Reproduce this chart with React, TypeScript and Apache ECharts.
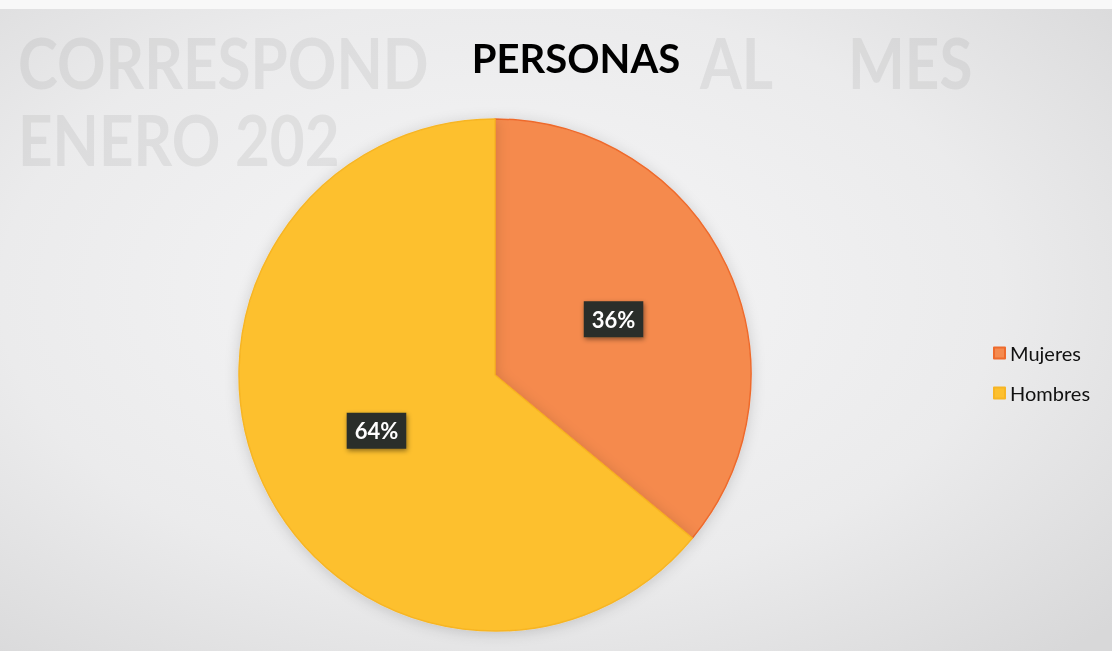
import React, { useEffect, useRef } from "react";
import * as echarts from "echarts";

const categories = ["Mujeres", "Hombres"];
const values = [36, 64];
const colors = ["#F58A4E", "#FDC02E"];
const borderColors = ["#EE6A2C", "#F7B524"];
const titleText = "PERSONAS";
// faint bleed-through text visible behind the chart (only the visible fragments)
const ghostWords = ["CORRESPOND", "AL", "MES", "ENERO 202"];
const ghostX = [18, 700, 848, 18];
const ghostY = [27, 27, 27, 104];

export default function App() {
  const ref = useRef<HTMLDivElement>(null);
  useEffect(() => {
    if (!ref.current) return;
    const chart = echarts.init(ref.current, null, { renderer: "svg" });
    const ghosts = ghostWords.map((w, i) => ({
      type: "text",
      x: ghostX[i],
      y: ghostY[i],
      scaleX: 0.86,
      silent: true,
      z: -1,
      style: {
        text: w,
        fontSize: 70,
        fontWeight: "bold",
        fontFamily: "Lato, 'Open Sans', sans-serif",
        fill: "rgba(150,150,150,0.17)",
        textVerticalAlign: "top",
      },
    }));
    chart.setOption({
      animation: false,
      backgroundColor: {
        type: "radial",
        x: 0.45,
        y: 0.45,
        r: 0.75,
        colorStops: [
          { offset: 0, color: "#f6f6f7" },
          { offset: 0.6, color: "#ebebec" },
          { offset: 1, color: "#d8d8d9" },
        ],
      },
      graphic: [
        {
          type: "rect",
          silent: true,
          z: -2,
          shape: { x: 0, y: 0, width: 1112, height: 9 },
          style: { fill: "#f8f8f8" },
        },
        ...ghosts,
      ],
      title: {
        text: titleText,
        left: 571,
        top: 33,
        textAlign: "center",
        textStyle: {
          fontSize: 40,
          fontWeight: "bold",
          color: "#000",
          fontFamily: "Lato, 'Open Sans', sans-serif",
        },
      },
      legend: {
        orient: "vertical",
        left: 988,
        top: 338,
        itemWidth: 11,
        itemHeight: 11,
        itemGap: 20,
        icon: "rect",
        data: categories,
        textStyle: {
          fontSize: 20,
          color: "#111",
          fontFamily: "Lato, 'Open Sans', sans-serif",
        },
      },
      series: [
        {
          type: "pie",
          center: [495, 375],
          radius: [0, 256],
          startAngle: 90,
          clockwise: true,
          data: categories.map((c, i) => ({
            name: c,
            value: values[i],
            itemStyle: {
              color: colors[i],
              borderColor: borderColors[i],
              borderWidth: 1.5,
            },
          })),
          itemStyle: {
            shadowBlur: 14,
            shadowColor: "rgba(0,0,0,0.16)",
            shadowOffsetX: 0,
            shadowOffsetY: 2,
          },
          label: {
            show: true,
            position: "inside",
            formatter: "{d}%",
            color: "#fff",
            fontSize: 22,
            fontWeight: "bold",
            fontFamily: "Lato, 'Open Sans', sans-serif",
            backgroundColor: "#2a2d2a",
            padding: [8, 8, 6, 8],
            shadowBlur: 5,
            shadowColor: "rgba(0,0,0,0.45)",
            shadowOffsetX: 1,
            shadowOffsetY: 2,
          },
          labelLine: { show: false },
          emphasis: { disabled: true },
        },
      ],
    });
    return () => chart.dispose();
  }, []);
  return (
    <div
      ref={ref}
      style={{ position: "fixed", left: 0, top: 0, width: 1112, height: 651 }}
    />
  );
}
